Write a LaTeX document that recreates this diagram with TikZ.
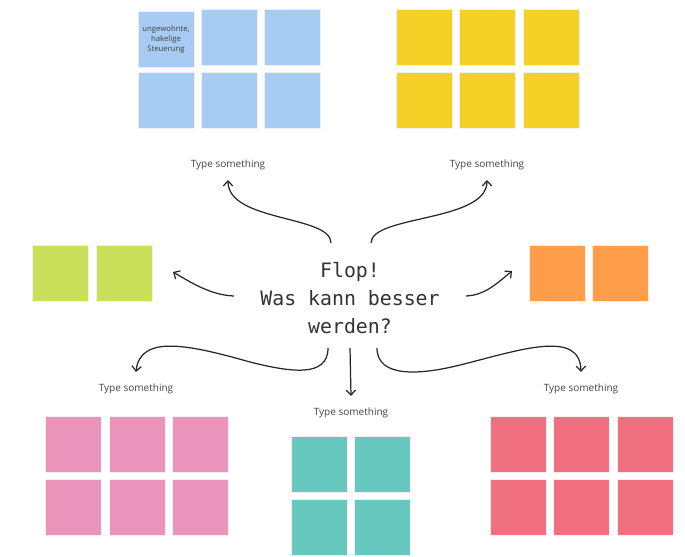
\documentclass[tikz,border=0pt]{standalone}
\usepackage{fontspec}
\setmainfont{Open Sans}
\newfontfamily\flopfont{DejaVu Sans Mono}
\usetikzlibrary{arrows.meta}

\definecolor{noteblue}{HTML}{A8CBF4}
\definecolor{noteyellow}{HTML}{F5D128}
\definecolor{notegreen}{HTML}{CBE05A}
\definecolor{noteorange}{HTML}{FE9D4A}
\definecolor{notepink}{HTML}{EA94BB}
\definecolor{noteteal}{HTML}{67C8C0}
\definecolor{notered}{HTML}{F06F81}
\definecolor{inkgray}{HTML}{444444}

\begin{document}
\begin{tikzpicture}[x=0.02cm,y=-0.02cm,
  note/.style={rectangle, draw=black!6, line width=0.3pt, minimum size=1.12cm, inner sep=0pt},
  typelabel/.style={text=inkgray, font=\fontsize{5.7}{7}\selectfont, inner sep=1pt},
  arr/.style={-{Straight Barb[length=2.8pt,width=5.4pt]}, line width=0.7pt, draw=black!85}]

 \useasboundingbox (0,0) rectangle (685,556);

 % le texte central
 \node [align=center, text=black!80, font=\flopfont\fontsize{11.3}{15.9}\selectfont] (flop) at (350,298) {Flop!\\Was kann besser\\werden?};

 % les etiquettes
 \node [typelabel] (lblTL) at (228,165) {Type something};
 \node [typelabel] (lblTR) at (487,165) {Type something};
 \node [typelabel] (lblBL) at (136,389) {Type something};
 \node [typelabel] (lblBM) at (351,413) {Type something};
 \node [typelabel] (lblBR) at (581,389) {Type something};

 % bleu, en haut a gauche
 \node [note, fill=noteblue, align=center, text=black!75, font=\fontsize{4.4}{5.7}\selectfont] (blue1) at (166,39) {ungewohnte,\\hakelige\\Steuerung};
 \node [note, fill=noteblue] (blue2) at (229,37) {};
 \node [note, fill=noteblue] (blue3) at (292,37) {};
 \node [note, fill=noteblue] (blue4) at (166,100) {};
 \node [note, fill=noteblue] (blue5) at (229,100) {};
 \node [note, fill=noteblue] (blue6) at (292,100) {};

 % jaune, en haut a droite
 \node [note, fill=noteyellow] (yellow1) at (424,37) {};
 \node [note, fill=noteyellow] (yellow2) at (487,37) {};
 \node [note, fill=noteyellow] (yellow3) at (551,37) {};
 \node [note, fill=noteyellow] (yellow4) at (424,100) {};
 \node [note, fill=noteyellow] (yellow5) at (487,100) {};
 \node [note, fill=noteyellow] (yellow6) at (551,100) {};

 % vert et orange
 \node [note, fill=notegreen] (green1) at (60,273.5) {};
 \node [note, fill=notegreen] (green2) at (124,273.5) {};
 \node [note, fill=noteorange] (orange1) at (557,273.5) {};
 \node [note, fill=noteorange] (orange2) at (620,273.5) {};

 % rose, en bas a gauche
 \node [note, fill=notepink] (pink1) at (73,444) {};
 \node [note, fill=notepink] (pink2) at (137,444) {};
 \node [note, fill=notepink] (pink3) at (200,444) {};
 \node [note, fill=notepink] (pink4) at (73,507) {};
 \node [note, fill=notepink] (pink5) at (137,507) {};
 \node [note, fill=notepink] (pink6) at (200,507) {};

 % turquoise, en bas au milieu
 \node [note, fill=noteteal] (teal1) at (319,464) {};
 \node [note, fill=noteteal] (teal2) at (382,464) {};
 \node [note, fill=noteteal] (teal3) at (319,527) {};
 \node [note, fill=noteteal] (teal4) at (382,527) {};

 % rouge, en bas a droite
 \node [note, fill=notered] (red1) at (518,444) {};
 \node [note, fill=notered] (red2) at (581,444) {};
 \node [note, fill=notered] (red3) at (645,444) {};
 \node [note, fill=notered] (red4) at (518,507) {};
 \node [note, fill=notered] (red5) at (581,507) {};
 \node [note, fill=notered] (red6) at (645,507) {};

 % les bouts des fleches
 \coordinate (fromTL) at (331,243);
 \coordinate (toTL) at ([yshift=-0.16cm]lblTL.south);
 \coordinate (fromTR) at (371,243);
 \coordinate (toTR) at ([yshift=-0.16cm]lblTR.south);
 \coordinate (fromL) at (234,296);
 \coordinate (toL) at (173,272);
 \coordinate (fromR) at (466,296);
 \coordinate (toR) at (512,271);
 \coordinate (fromBM) at (350,348);
 \coordinate (toBM) at ([yshift=0.2cm]lblBM.north);
 \coordinate (fromBL) at (328,348);
 \coordinate (midBL) at (250,362);
 \coordinate (toBL) at ([yshift=0.2cm]lblBL.north);
 \coordinate (fromBR) at (377,348);
 \coordinate (midBR) at (460,365);
 \coordinate (toBR) at ([yshift=0.2cm]lblBR.north);

 \draw [arr] (fromTL) .. controls +(0,-28) and +(0,42) .. (toTL);
 \draw [arr] (fromTR) .. controls +(0,-28) and +(0,42) .. (toTR);
 \draw [arr] (fromL) .. controls +(-22,-1) and +(22,13) .. (toL);
 \draw [arr] (fromR) .. controls +(18,-1) and +(-18,15) .. (toR);
 \draw [arr] (fromBM) -- (toBM);
 \draw [arr] (fromBL) .. controls +(0,30) and +(40,10) .. (midBL) .. controls +(-60,-17) and +(4,-38) .. (toBL);
 \draw [arr] (fromBR) .. controls +(0,30) and +(-40,10) .. (midBR) .. controls +(60,-15) and +(-1,-43) .. (toBR);
\end{tikzpicture}
\end{document}
